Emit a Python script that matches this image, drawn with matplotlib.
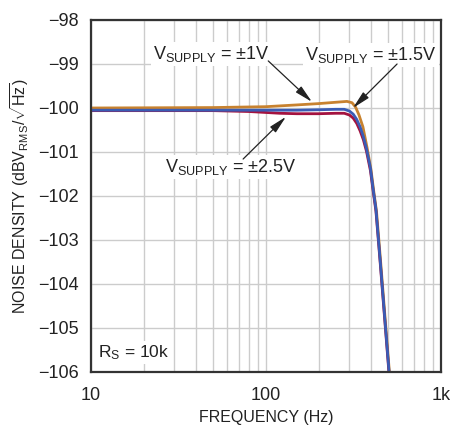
import numpy as np
import matplotlib
matplotlib.use('Agg')
import matplotlib.pyplot as plt
from matplotlib.ticker import FixedLocator, FixedFormatter, LogLocator, NullFormatter

plt.rcParams['font.family'] = ['Liberation Sans', 'DejaVu Sans']
plt.rcParams['mathtext.fontset'] = 'custom'
plt.rcParams['mathtext.rm'] = 'Liberation Sans'
plt.rcParams['mathtext.it'] = 'Liberation Sans'
plt.rcParams['mathtext.default'] = 'regular'

# supply = +-1V (orange)
f_1v = [10, 50, 100, 150, 200, 250, 290, 310, 325, 340, 358, 378, 398, 413, 428, 452, 482, 507, 540]
n_1v = [-100.0, -99.99, -99.97, -99.93, -99.9, -99.87, -99.85, -99.88, -99.98, -100.16, -100.43,
        -100.9, -101.4, -101.9, -102.35, -103.5, -104.9, -106.0, -107.3]

# supply = +-1.5V (blue)
f_15v = [10, 20, 50, 100, 150, 200, 250, 280, 300, 315, 330, 345, 360, 375, 395, 410, 425, 450, 480, 505, 540]
n_15v = [-100.05, -100.05, -100.05, -100.05, -100.05, -100.04, -100.03, -100.03, -100.07, -100.14,
         -100.26, -100.43, -100.65, -100.92, -101.36, -101.86, -102.3, -103.5, -104.9, -106.0, -107.4]

# supply = +-2.5V (red)
f_25v = [10, 50, 80, 120, 150, 200, 250, 280, 300, 315, 330, 345, 360, 375, 395, 410, 425, 450, 480, 505, 540]
n_25v = [-100.06, -100.06, -100.08, -100.12, -100.13, -100.13, -100.12, -100.12, -100.16, -100.23,
         -100.35, -100.52, -100.72, -100.98, -101.42, -101.9, -102.35, -103.55, -104.95, -106.05, -107.4]

yticks = [-98, -99, -100, -101, -102, -103, -104, -105, -106]
xticks = [10, 100, 1000]
xticklabels = ['10', '100', '1k']

fig = plt.figure(figsize=(4.5, 4.28), dpi=100)
ax = fig.add_axes([91 / 450, 1 - 372 / 428, 350 / 450, 352 / 428])

ax.plot(f_1v, n_1v, color='#C8822F', lw=2)
ax.plot(f_25v, n_25v, color='#A3123F', lw=2)
ax.plot(f_15v, n_15v, color='#3A5CB5', lw=2)

ax.set_xscale('log')
ax.set_xlim(10, 1000)
ax.set_ylim(-106, -98)
ax.xaxis.set_major_locator(FixedLocator(xticks))
ax.xaxis.set_major_formatter(FixedFormatter(xticklabels))
ax.xaxis.set_minor_locator(LogLocator(base=10, subs=np.arange(2, 10)))
ax.xaxis.set_minor_formatter(NullFormatter())
ax.set_yticks(yticks)
ax.set_yticklabels([str(t).replace('-', '\u2212') for t in yticks])

ax.grid(True, which='both', color='#CCCCCC', lw=1)
ax.set_axisbelow(True)
ax.tick_params(which='both', length=0, labelsize=13, pad=9, colors='#222222')
ax.tick_params(axis='x', pad=11)
for s in ax.spines.values():
    s.set_color('#333333')
    s.set_linewidth(1.6)

ax.set_xlabel('FREQUENCY (Hz)', fontsize=11.5, color='#222222', labelpad=4)
ax.set_ylabel(r'NOISE DENSITY (dBV$_{RMS}$/$\sqrt{Hz}$)', fontsize=11.5, color='#222222', labelpad=5)

box = dict(facecolor='white', edgecolor='none', pad=1.5)
arrow = dict(arrowstyle='-|>,head_length=0.9,head_width=0.2', color='#222222', lw=0.9,
             mutation_scale=12, shrinkA=0, shrinkB=0)

ax.text(49, -98.77, r'V$_{SUPPLY}$ = ±1V', fontsize=13, ha='center', va='center', bbox=box, color='#222222')
ax.annotate('', xy=(183, -99.86), xytext=(103, -98.93), arrowprops=arrow)

ax.text(398, -98.8, r'V$_{SUPPLY}$ = ±1.5V', fontsize=13, ha='center', va='center', bbox=box, color='#222222')
ax.annotate('', xy=(314, -100.0), xytext=(561, -99.0), arrowprops=arrow)

ax.text(62.7, -101.34, r'V$_{SUPPLY}$ = ±2.5V', fontsize=13, ha='center', va='center', bbox=box, color='#222222')
ax.annotate('', xy=(130, -100.2), xytext=(74, -101.16), arrowprops=arrow)

ax.text(11.0, -105.55, r'R$_S$ = 10k', fontsize=12.5, ha='left', va='center', bbox=box, color='#222222')

fig.savefig('out.png', dpi=100)
